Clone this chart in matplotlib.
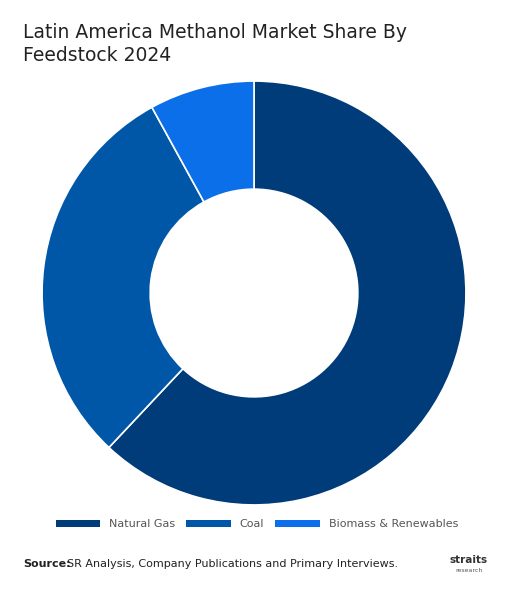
import matplotlib.pyplot as plt
from matplotlib.patches import Patch

labels = ["Natural Gas", "Coal", "Biomass & Renewables"]
shares = [62, 30, 8]
colors = ["#003b7a", "#0057a8", "#0a6fe8"]

fig = plt.figure(figsize=(5.14, 5.97), dpi=100)
fig.patch.set_facecolor("white")

w = 426 / 514
h = 426 / 597
ax = fig.add_axes([254 / 514 - w / 2, 1 - 293 / 597 - h / 2, w, h])
ax.pie(shares, colors=colors, startangle=90, counterclock=False,
       wedgeprops=dict(width=0.51, edgecolor="white", linewidth=1.2))
ax.set_xlim(-1.005, 1.005)
ax.set_ylim(-1.005, 1.005)
ax.set_aspect("equal")

fig.text(0.045, 0.962, "Latin America Methanol Market Share By\nFeedstock 2024",
         fontsize=13.5, va="top", ha="left", color="#222222", linespacing=1.3)

handles = [Patch(facecolor=c, edgecolor="none") for c in colors]
fig.legend(handles, labels, loc="center", bbox_to_anchor=(0.5, 0.122), ncol=3,
           frameon=False, fontsize=8, handlelength=4.0, handleheight=0.6,
           columnspacing=1.0, labelcolor="#555555")

fig.text(0.045, 0.055, "Source:", fontsize=8, fontweight="bold", color="#222222", va="center")
fig.text(0.13, 0.055, "SR Analysis, Company Publications and Primary Interviews.",
         fontsize=8, color="#222222", va="center")
fig.text(0.875, 0.062, "straits", fontsize=7.5, fontweight="bold", color="#333333", va="center")
fig.text(0.885, 0.045, "research", fontsize=4.5, color="#555555", va="center")

fig.savefig("out.png", dpi=100)
